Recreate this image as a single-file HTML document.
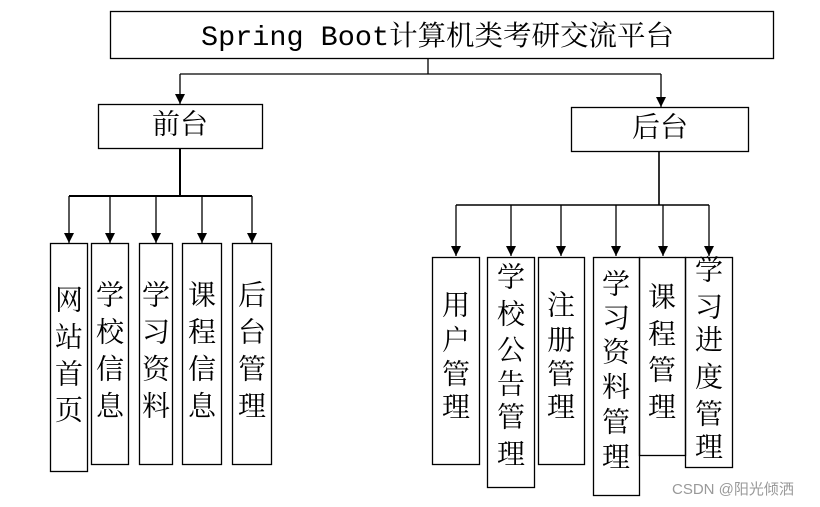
<!DOCTYPE html>
<html><head><meta charset="utf-8"><style>
html,body{margin:0;padding:0;background:#fff;}
svg{display:block;}
text{font-family:"Liberation Mono","Noto Serif CJK SC","Noto Sans CJK SC",serif;fill:#000;}
.v{font-size:28px;text-anchor:middle;dominant-baseline:central;}
</style></head><body>
<svg width="820" height="507" viewBox="0 0 820 507" xmlns="http://www.w3.org/2000/svg">
<defs><marker id="a" markerWidth="10" markerHeight="10" refX="5" refY="9" orient="auto" markerUnits="userSpaceOnUse"><path d="M0,0 L10,0 L5,10 z" fill="#000"/></marker>
<marker id="d" viewBox="0 0 10 10" markerWidth="10" markerHeight="10" refX="5" refY="10" orient="0" markerUnits="userSpaceOnUse"><path d="M0,0 L10,0 L5,10 z" fill="#000"/></marker></defs>
<g fill="none" stroke="#000" stroke-width="1.3">
<rect x="110.5" y="11.5" width="663" height="47"/>
<rect x="98.5" y="104.5" width="164" height="44"/>
<rect x="571.5" y="107.5" width="177" height="44"/>
<path d="M428 58 V74 M180 74 H661"/>
<path d="M180 74 V104" marker-end="url(#d)"/>
<path d="M661 74 V107" marker-end="url(#d)"/>
<path d="M180 149 V196 M69 196 H252" stroke-width="2"/>
<path d="M69 196 V243" marker-end="url(#d)"/>
<path d="M110 196 V243" marker-end="url(#d)"/>
<path d="M156 196 V243" marker-end="url(#d)"/>
<path d="M202 196 V243" marker-end="url(#d)"/>
<path d="M252 196 V243" marker-end="url(#d)"/>
<path d="M659 152 V205 M456 205 H709" stroke-width="1.6"/>
<path d="M456 205 V256" marker-end="url(#d)"/>
<path d="M511 205 V256" marker-end="url(#d)"/>
<path d="M561 205 V256" marker-end="url(#d)"/>
<path d="M616 205 V256" marker-end="url(#d)"/>
<path d="M663 205 V256" marker-end="url(#d)"/>
<path d="M709 205 V256" marker-end="url(#d)"/>
<rect x="50.5" y="243.5" width="37" height="228"/>
<rect x="91.5" y="243.5" width="37" height="221"/>
<rect x="139.5" y="243.5" width="33" height="221"/>
<rect x="182.5" y="243.5" width="39" height="221"/>
<rect x="232.5" y="243.5" width="39" height="221"/>
<rect x="432.5" y="257.5" width="47" height="207"/>
<rect x="487.5" y="257.5" width="47" height="230"/>
<rect x="538.5" y="257.5" width="46" height="207"/>
<rect x="593.5" y="257.5" width="46" height="238"/>
<rect x="639.5" y="257.5" width="46" height="198"/>
<rect x="685.5" y="257.5" width="47" height="210"/>
</g>
<text x="201" y="45" font-size="28" textLength="473" lengthAdjust="spacingAndGlyphs">Spring Boot计算机类考研交流平台</text>
<text x="180" y="127" class="v" font-size="28">前台</text>
<text x="660" y="130" class="v" font-size="28">后台</text>
<g class="v">
<text x="69" y="303" class="v">网</text><text x="69" y="340" class="v">站</text><text x="69" y="377" class="v">首</text><text x="69" y="413" class="v">页</text>
<text x="110" y="298" class="v">学</text><text x="110" y="335" class="v">校</text><text x="110" y="372" class="v">信</text><text x="110" y="409" class="v">息</text>
<text x="156" y="298" class="v">学</text><text x="156" y="335" class="v">习</text><text x="156" y="372" class="v">资</text><text x="156" y="409" class="v">料</text>
<text x="202" y="298" class="v">课</text><text x="202" y="335" class="v">程</text><text x="202" y="372" class="v">信</text><text x="202" y="409" class="v">息</text>
<text x="252" y="298" class="v">后</text><text x="252" y="335" class="v">台</text><text x="252" y="372" class="v">管</text><text x="252" y="409" class="v">理</text>
<text x="456" y="308" class="v">用</text><text x="456" y="343" class="v">户</text><text x="456" y="377" class="v">管</text><text x="456" y="410" class="v">理</text>
<text x="511" y="280" class="v">学</text><text x="511" y="317" class="v">校</text><text x="511" y="353" class="v">公</text><text x="511" y="387" class="v">告</text><text x="511" y="420" class="v">管</text><text x="511" y="457" class="v">理</text>
<text x="561" y="308" class="v">注</text><text x="561" y="343" class="v">册</text><text x="561" y="377" class="v">管</text><text x="561" y="410" class="v">理</text>
<text x="616" y="287" class="v">学</text><text x="616" y="321" class="v">习</text><text x="616" y="355" class="v">资</text><text x="616" y="390" class="v">料</text><text x="616" y="425" class="v">管</text><text x="616" y="460" class="v">理</text>
<text x="662" y="300" class="v">课</text><text x="662" y="337" class="v">程</text><text x="662" y="373" class="v">管</text><text x="662" y="410" class="v">理</text>
<text x="709" y="273" class="v">学</text><text x="709" y="310" class="v">习</text><text x="709" y="343" class="v">进</text><text x="709" y="380" class="v">度</text><text x="709" y="417" class="v">管</text><text x="709" y="450" class="v">理</text>
</g>
<text x="672" y="494" font-size="15" style="font-family:'Liberation Sans','Noto Sans CJK SC',sans-serif;fill:#999">CSDN @阳光倾洒</text>
</svg>
</body></html>
